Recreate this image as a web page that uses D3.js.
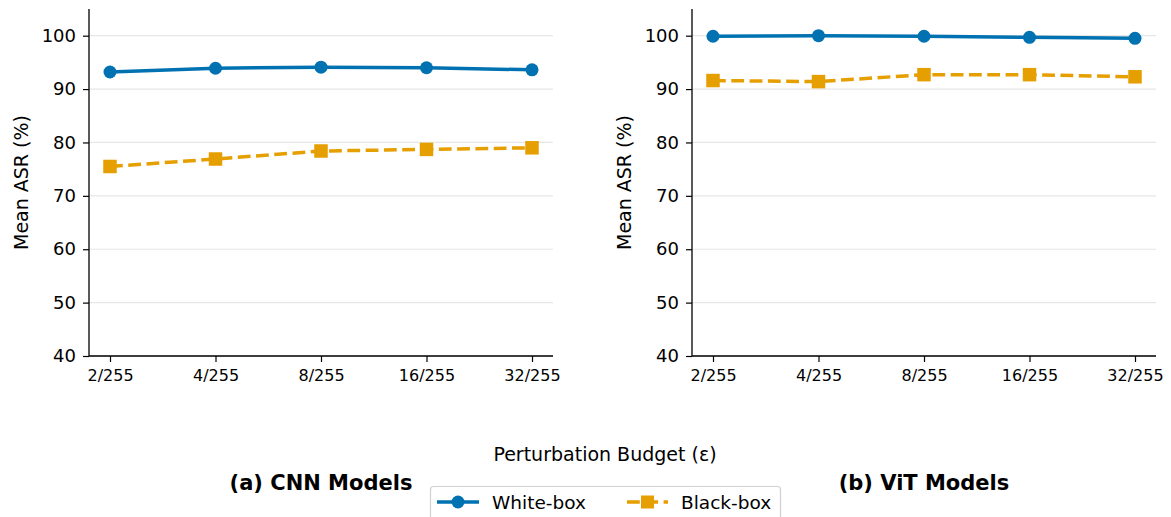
<!DOCTYPE html>
<html>
<head>
<meta charset="utf-8">
<script src="https://cdn.jsdelivr.net/npm/d3@7"></script>
<style>
  html, body { margin: 0; padding: 0; background: #fff; }
  svg { display: block; font-family: "DejaVu Sans", sans-serif; }
</style>
</head>
<body>
<svg id="chart" width="1171" height="517"></svg>
<script>
// Perturbation budgets on the x axis
const budgets = ["2/255", "4/255", "8/255", "16/255", "32/255"];
const yTicks = [40, 50, 60, 70, 80, 90, 100];

// Mean attack success rate (%) per budget
const cnnWhiteBox = [93.2, 93.9, 94.1, 94.0, 93.6];
const cnnBlackBox = [75.5, 76.9, 78.4, 78.7, 79.0];
const vitWhiteBox = [99.9, 100.0, 99.9, 99.7, 99.5];
const vitBlackBox = [91.6, 91.4, 92.7, 92.7, 92.3];

const panelTitles = ["(a) CNN Models", "(b) ViT Models"];
const seriesNames = ["White-box", "Black-box"];

const colors = { white: "#0072B2", black: "#E69F00" };
const lineWidth = 3.5;
const dash = "12.8,5.5";

const svg = d3.select("#chart");

const panels = [
  { title: panelTitles[0], white: cnnWhiteBox, black: cnnBlackBox, x0: 89, x1: 553 },
  { title: panelTitles[1], white: vitWhiteBox, black: vitBlackBox, x0: 692, x1: 1156 }
];

const plotTop = 9, plotBottom = 356;

panels.forEach(p => {
  const g = svg.append("g");
  const x = d3.scalePoint().domain(budgets).range([p.x0 + 21, p.x1 - 21]);
  const y = d3.scaleLinear().domain([40, 105]).range([plotBottom, plotTop]);

  // horizontal grid
  g.append("g").selectAll("line").data(yTicks).join("line")
    .attr("x1", p.x0).attr("x2", p.x1)
    .attr("y1", d => y(d)).attr("y2", d => y(d))
    .attr("stroke", "#e6e6e6").attr("stroke-width", 1.2);

  // y axis
  const yAxis = g.append("g").attr("transform", `translate(${p.x0},0)`)
    .call(d3.axisLeft(y).tickValues(yTicks).tickSize(6).tickPadding(7));
  yAxis.attr("font-size", 18).attr("font-family", "DejaVu Sans");
  yAxis.select(".domain").attr("stroke", "#000").attr("stroke-width", 1.3)
    .attr("d", `M0,${plotTop}V${plotBottom}`);
  yAxis.selectAll(".tick line").attr("stroke", "#000").attr("stroke-width", 1.2);
  yAxis.selectAll(".tick text").attr("fill", "#000");

  // x axis
  const xAxis = g.append("g").attr("transform", `translate(0,${plotBottom})`)
    .call(d3.axisBottom(x).tickSize(6).tickPadding(8));
  xAxis.attr("font-size", 16).attr("font-family", "DejaVu Sans");
  xAxis.select(".domain").attr("stroke", "#000").attr("stroke-width", 1.3)
    .attr("d", `M${p.x0},0H${p.x1}`);
  xAxis.selectAll(".tick line").attr("stroke", "#000").attr("stroke-width", 1.2);
  xAxis.selectAll(".tick text").attr("fill", "#000");

  // y label
  g.append("text")
    .attr("transform", `translate(${p.x0 - 61},${(plotTop + plotBottom) / 2}) rotate(-90)`)
    .attr("text-anchor", "middle").attr("font-size", 19).attr("fill", "#000")
    .text("Mean ASR (%)");

  const line = d3.line().x((d, i) => x(budgets[i])).y(d => y(d));

  // white-box series
  g.append("path").datum(p.white).attr("d", line)
    .attr("fill", "none").attr("stroke", colors.white).attr("stroke-width", lineWidth);
  g.append("g").selectAll("circle").data(p.white).join("circle")
    .attr("cx", (d, i) => x(budgets[i])).attr("cy", d => y(d)).attr("r", 6.5)
    .attr("fill", colors.white);

  // black-box series
  g.append("path").datum(p.black).attr("d", line)
    .attr("fill", "none").attr("stroke", colors.black).attr("stroke-width", lineWidth)
    .attr("stroke-dasharray", dash);
  const s = 13.5;
  g.append("g").selectAll("rect").data(p.black).join("rect")
    .attr("x", (d, i) => x(budgets[i]) - s / 2).attr("y", d => y(d) - s / 2)
    .attr("width", s).attr("height", s)
    .attr("fill", colors.black);

  // panel title
  g.append("text")
    .attr("x", x(budgets[2])).attr("y", 490)
    .attr("text-anchor", "middle").attr("font-size", 21).attr("font-weight", "bold")
    .attr("fill", "#000").text(p.title);
});

// shared x label
svg.append("text")
  .attr("x", 605).attr("y", 461).attr("text-anchor", "middle")
  .attr("font-size", 19).attr("fill", "#000")
  .text("Perturbation Budget (ε)");

// legend
const lg = svg.append("g");
lg.append("rect").attr("x", 430.5).attr("y", 486.5).attr("width", 350).attr("height", 50)
  .attr("rx", 3).attr("fill", "#fff").attr("stroke", "#d0d0d0").attr("stroke-width", 1.2);

lg.append("line").attr("x1", 437).attr("x2", 479).attr("y1", 502).attr("y2", 502)
  .attr("stroke", colors.white).attr("stroke-width", lineWidth);
lg.append("circle").attr("cx", 458).attr("cy", 502).attr("r", 6.5).attr("fill", colors.white);
lg.append("text").attr("x", 492).attr("y", 509).attr("font-size", 18.5).attr("fill", "#000")
  .text(seriesNames[0]);

lg.append("line").attr("x1", 627).attr("x2", 668).attr("y1", 502).attr("y2", 502)
  .attr("stroke", colors.black).attr("stroke-width", lineWidth).attr("stroke-dasharray", dash);
lg.append("rect").attr("x", 641).attr("y", 495.5).attr("width", 13).attr("height", 13)
  .attr("fill", colors.black);
lg.append("text").attr("x", 681).attr("y", 509).attr("font-size", 18.5).attr("fill", "#000")
  .text(seriesNames[1]);
</script>
</body>
</html>
